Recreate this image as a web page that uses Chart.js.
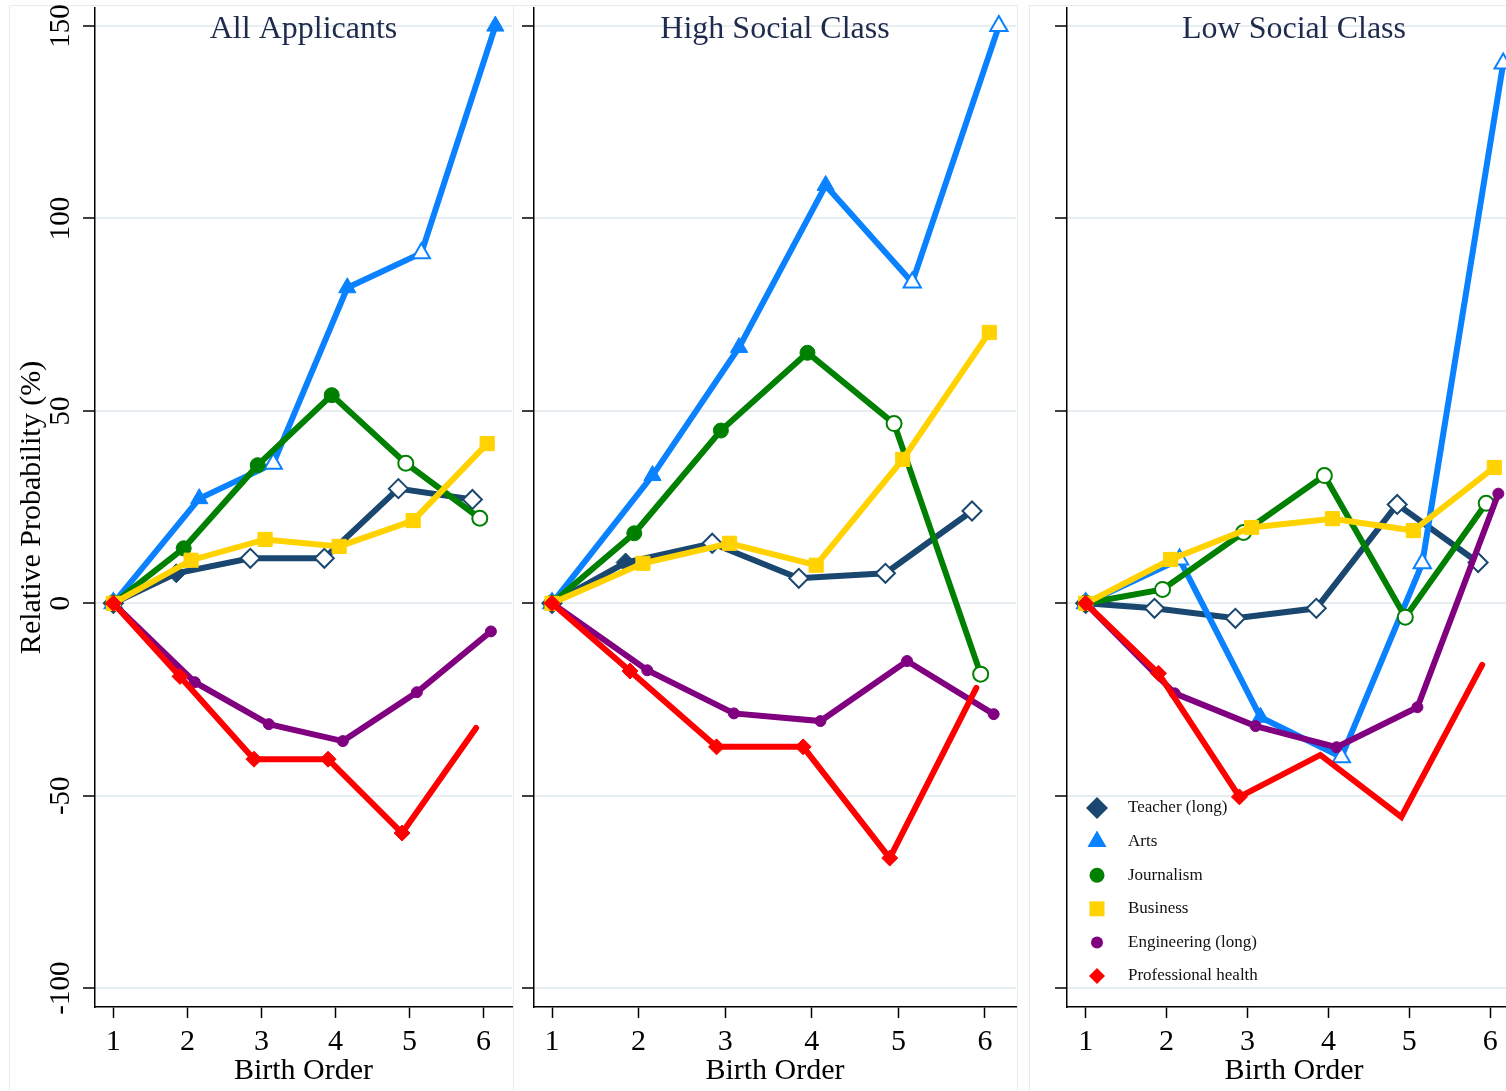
<!DOCTYPE html>
<html>
<head>
<meta charset="utf-8">
<script src="https://cdn.jsdelivr.net/npm/chart.js@4.4.1/dist/chart.umd.min.js"></script>
<style>
  html, body { margin: 0; padding: 0; background: #fff; }
  #wrap { position: relative; width: 1506px; height: 1091px; overflow: hidden; }
  .frame { position: absolute; top: 5px; height: 1100px; border: 1.5px solid #e4edf0; box-sizing: border-box; }
  canvas { position: absolute; top: 0; }
</style>
</head>
<body>
<div id="wrap">
  <div class="frame" style="left:9px;width:505px"></div>
  <div class="frame" style="left:513px;width:505px"></div>
  <div class="frame" style="left:1029px;width:600px"></div>
  <canvas id="panel1" width="513" height="1091" style="left:0px"></canvas>
  <canvas id="panel2" width="504" height="1091" style="left:513px"></canvas>
  <canvas id="panel3" width="504" height="1091" style="left:1017px"></canvas>
</div>
<script>
// x categories and tick labels
const birthOrder = [1, 2, 3, 4, 5, 6];
const yTickValues = [-100, -50, 0, 50, 100, 150];
const seriesLabels = ['Teacher (long)', 'Arts', 'Journalism', 'Business', 'Engineering (long)', 'Professional health'];
const panelTitles = ['All Applicants', 'High Social Class', 'Low Social Class'];

// marker flags: 1 = filled, 0 = hollow, -1 = no marker

// All Applicants
const allTeacher = [0, 7.8, 11.7, 11.7, 29.8, 27.0];
const allTeacherMarks = [0, 1, 0, 0, 0, 0];
const allArts = [0, 27.2, 36.3, 82.0, 91.0, 150.0];
const allArtsMarks = [0, 1, 0, 1, 0, 1];
const allJournalism = [0, 14.3, 35.9, 54.1, 36.4, 22.1];
const allJournalismMarks = [0, 1, 1, 1, 0, 0];
const allBusiness = [0, 11.2, 16.6, 14.8, 21.5, 41.5];
const allBusinessMarks = [1, 1, 1, 1, 1, 1];
const allEngineering = [0, -20.5, -31.4, -35.8, -23.1, -7.3];
const allEngineeringMarks = [1, 1, 1, 1, 1, 1];
const allHealth = [0, -19.0, -40.5, -40.5, -59.7, -32.4];
const allHealthMarks = [1, 1, 1, 1, 1, -1];

// High Social Class
const highTeacher = [0, 10.6, 15.6, 6.5, 7.8, 24.0];
const highTeacherMarks = [0, 1, 0, 0, 0, 0];
const highArts = [0, 33.2, 66.5, 108.6, 83.4, 150.0];
const highArtsMarks = [0, 1, 1, 1, 0, 0];
const highJournalism = [0, 18.2, 44.9, 65.1, 46.7, -18.4];
const highJournalismMarks = [0, 1, 1, 1, 0, 0];
const highBusiness = [0, 10.4, 15.6, 9.9, 37.4, 70.4];
const highBusinessMarks = [1, 1, 1, 1, 1, 1];
const highEngineering = [0, -17.4, -28.6, -30.6, -15.0, -28.8];
const highEngineeringMarks = [1, 1, 1, 1, 1, 1];
const highHealth = [0, -17.6, -37.3, -37.3, -66.2, -22.0];
const highHealthMarks = [1, 1, 1, 1, 1, -1];

// Low Social Class
const lowTeacher = [0, -1.3, -3.9, -1.3, 25.7, 10.6];
const lowTeacherMarks = [0, 0, 0, 0, 0, 0];
const lowArts = [0, 11.4, -29.6, -40.0, 10.4, 140.3];
const lowArtsMarks = [0, 0, 1, 0, 0, 0];
const lowJournalism = [0, 3.6, 18.4, 33.2, -3.6, 26.0];
const lowJournalismMarks = [0, 0, 0, 0, 0, 0];
const lowBusiness = [0, 11.4, 19.7, 22.0, 18.9, 35.3];
const lowBusinessMarks = [1, 1, 1, 1, 1, 1];
const lowEngineering = [0, -23.4, -31.9, -37.4, -27.0, 28.5];
const lowEngineeringMarks = [1, 1, 1, 1, 1, 1];
const lowHealth = [0, -18.2, -50.3, -39.4, -55.5, -16.0];
const lowHealthMarks = [1, 1, 1, -1, -1, -1];

// look of each series (jitter = horizontal offset of the markers, in birth-order units)
const seriesStyle = [
    { color: '#1a476f', shape: 'rectRot', radius: 9.5, legendRadius: 11, jitter: -0.15 },
    { color: '#0a82ff', shape: 'triangle', radius: 10, legendRadius: 11, jitter: 0.16 },
    { color: '#008000', shape: 'circle', radius: 7.5, legendRadius: 7.5, jitter: -0.05 },
    { color: '#ffd200', shape: 'rect', radius: 10, legendRadius: 10.6, jitter: 0.05 },
    { color: '#800080', shape: 'circle', radius: 5.5, legendRadius: 6, jitter: 0.1 },
    { color: '#ff0000', shape: 'rectRot', radius: 8, legendRadius: 8, jitter: -0.1 }
];

const SERIF = "'Liberation Serif', 'DejaVu Serif', serif";
Chart.defaults.font.family = SERIF;
Chart.defaults.color = '#000';

// Panel title drawn inside the plot area
const panelTitlePlugin = {
    id: 'panelTitle',
    afterDraw(chart, args, opts) {
        const ctx = chart.ctx;
        const a = chart.chartArea;
        ctx.save();
        ctx.font = '32px ' + SERIF;
        ctx.fillStyle = '#1f2b4d';
        ctx.textAlign = 'center';
        ctx.textBaseline = 'alphabetic';
        ctx.fillText(opts.text, (a.left + a.right) / 2, 38);
        ctx.restore();
    }
};

// Legend inside the bottom-left corner of the last panel
const insideLegendPlugin = {
    id: 'insideLegend',
    afterDraw(chart, args, opts) {
        if (!opts.show) return;
        const ctx = chart.ctx;
        const a = chart.chartArea;
        ctx.save();
        seriesLabels.forEach((label, i) => {
            const s = seriesStyle[i];
            const y = a.bottom - 199 + i * 33.6;
            ctx.fillStyle = s.color;
            ctx.strokeStyle = s.color;
            Chart.helpers.drawPoint(ctx, { pointStyle: s.shape, radius: s.legendRadius, rotation: 0, borderWidth: 0 }, a.left + 30, y);
            ctx.fillStyle = '#111';
            ctx.font = '17px ' + SERIF;
            ctx.textAlign = 'left';
            ctx.textBaseline = 'middle';
            ctx.fillText(label, a.left + 61, y);
        });
        ctx.restore();
    }
};

function makePanel(canvasId, title, values, marks, xMin, xMax, axisLeft, padRight, showYLabels, showLegend) {
    const datasets = seriesLabels.map((label, i) => {
        const s = seriesStyle[i];
        return {
            label: label,
            data: birthOrder.map((b, j) => ({ x: b === 1 ? b : b + s.jitter, y: values[i][j] })),
            order: seriesLabels.length - i,
            showLine: true,
            fill: false,
            tension: 0,
            clip: false,
            borderColor: s.color,
            borderWidth: 6,
            borderCapStyle: 'round',
            pointStyle: s.shape,
            pointRadius: marks[i].map(m => m < 0 ? 0 : s.radius),
            pointBackgroundColor: marks[i].map(m => m === 1 ? s.color : '#ffffff'),
            pointBorderColor: s.color,
            pointBorderWidth: marks[i].map(m => m === 1 ? 1 : 2)
        };
    });

    return new Chart(document.getElementById(canvasId), {
        type: 'line',
        data: { datasets: datasets },
        plugins: [panelTitlePlugin, insideLegendPlugin],
        options: {
            responsive: false,
            animation: false,
            events: [],
            layout: { autoPadding: false, padding: { top: 8, right: padRight, left: 0, bottom: 0 } },
            plugins: {
                legend: { display: false },
                tooltip: { enabled: false },
                panelTitle: { text: title },
                insideLegend: { show: showLegend }
            },
            scales: {
                x: {
                    type: 'linear',
                    min: xMin,
                    max: xMax,
                    afterBuildTicks: scale => { scale.ticks = birthOrder.map(v => ({ value: v })); },
                    afterFit: scale => {
                        scale.height = 84;
                        scale.paddingLeft = 0;
                        scale.paddingRight = 0;
                    },
                    grid: { drawOnChartArea: false, drawTicks: true, tickLength: 11, tickColor: '#000', tickWidth: 1.5 },
                    border: { color: '#000', width: 1.5 },
                    ticks: { font: { size: 30 }, color: '#000', padding: 6, maxRotation: 0 },
                    title: { display: true, text: 'Birth Order', font: { size: 30 }, color: '#000', padding: { top: 0, bottom: 2 } }
                },
                y: {
                    type: 'linear',
                    min: -104.9,
                    max: 154.7,
                    afterBuildTicks: scale => { scale.ticks = yTickValues.map(v => ({ value: v })); },
                    afterFit: scale => {
                        scale.width = axisLeft;
                        scale.paddingTop = 0;
                        scale.paddingBottom = 0;
                    },
                    grid: { color: '#e6eef1', lineWidth: 2, drawTicks: true, tickLength: 12, tickColor: '#000', tickWidth: 1.5 },
                    border: { color: '#000', width: 1.5 },
                    ticks: {
                        font: { size: 29 },
                        color: '#000',
                        minRotation: 90,
                        maxRotation: 90,
                        crossAlign: 'center',
                        padding: -5,
                        callback: v => showYLabels ? String(v) : ''
                    },
                    title: {
                        display: showYLabels,
                        text: 'Relative Probability (%)',
                        font: { size: 30 },
                        color: '#000',
                        padding: { top: 14, bottom: 0 }
                    }
                }
            }
        }
    });
}

makePanel('panel1', panelTitles[0],
    [allTeacher, allArts, allJournalism, allBusiness, allEngineering, allHealth],
    [allTeacherMarks, allArtsMarks, allJournalismMarks, allBusinessMarks, allEngineeringMarks, allHealthMarks],
    0.752, 6.385, 95, 1, true, false);

makePanel('panel2', panelTitles[1],
    [highTeacher, highArts, highJournalism, highBusiness, highEngineering, highHealth],
    [highTeacherMarks, highArtsMarks, highJournalismMarks, highBusinessMarks, highEngineeringMarks, highHealthMarks],
    0.792, 6.358, 21, 1, false, false);

makePanel('panel3', panelTitles[2],
    [lowTeacher, lowArts, lowJournalism, lowBusiness, lowEngineering, lowHealth],
    [lowTeacherMarks, lowArtsMarks, lowJournalismMarks, lowBusinessMarks, lowEngineeringMarks, lowHealthMarks],
    0.769, 6.38, 50, 0, false, true);
</script>
</body>
</html>
